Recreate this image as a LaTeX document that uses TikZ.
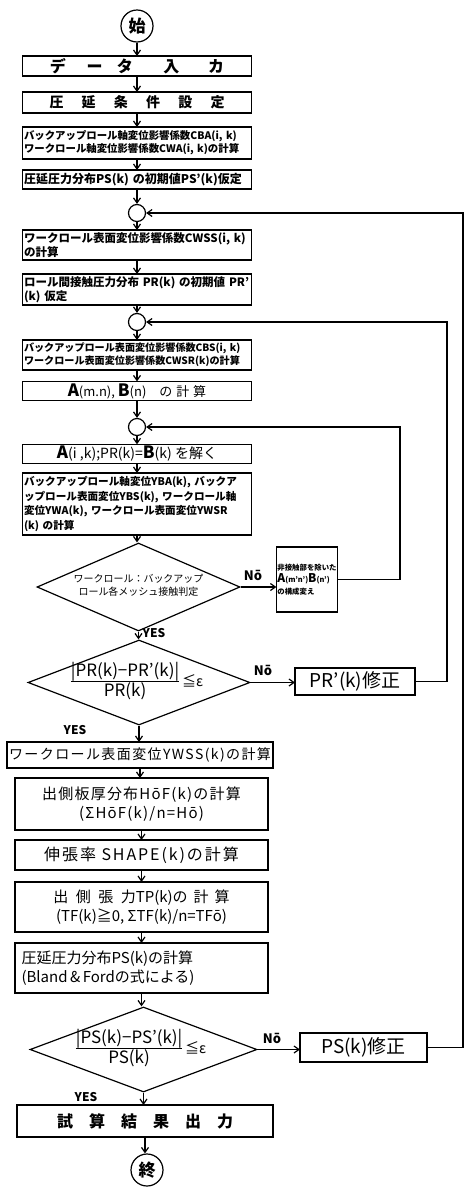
\documentclass[tikz,border=0pt]{standalone}
\usepackage{fontspec}
\setmainfont{Noto Sans CJK JP}
\usetikzlibrary{shapes.geometric,arrows.meta}
\newcommand{\frc}[2]{\setlength{\arrayrulewidth}{1.4pt}\begin{tabular}[c]{@{}c@{}}#1\\[-1pt]\hline #2\end{tabular}}
\newcommand{\fs}[2]{\fontsize{#1}{#2}\selectfont}
\newcommand{\ls}[1]{\addfontfeatures{LetterSpace=#1}}
\begin{document}
\begin{tikzpicture}[x=1pt,y=-1pt,
  box/.style={draw, line width=1.2pt, rectangle, inner sep=2pt, outer sep=0pt},
  sbox/.style={box, align=left, text width=226pt, inner sep=1.5pt, font=\fs{11}{13}\bfseries},
  flow/.style={line width=1.2pt, -{Straight Barb[length=5pt,width=7pt]}},
  junc/.style={draw, circle, line width=1.2pt, minimum size=17pt, inner sep=0pt},
  term/.style={draw, circle, line width=1.2pt, minimum size=32pt, inner sep=0pt, font=\fs{17}{17}\bfseries},
  dec/.style={draw, diamond, line width=1.2pt, inner sep=0pt, aspect=2.4},
  lbl/.style={inner sep=0pt, font=\fs{13}{13}\bfseries}
]
\useasboundingbox (0,0) rectangle (474,1189);
\fill[white] (0,0) rectangle (474,1189);

% ---- top section
\node[term] (start) at (137,26) {始};
\node[box, minimum width=229pt, minimum height=20pt, font=\fs{16}{16}\bfseries] (input) at (137,66)
  {デ\hspace{1.3em}ー\hspace{0.9em}タ\hspace{1.9em}入\hspace{1.8em}カ};
\node[box, minimum width=229pt, minimum height=21pt, font=\fs{14}{14}\bfseries] (cond) at (137,102.5)
  {圧\hspace{1.3em}延\hspace{1.3em}条\hspace{1.3em}件\hspace{1.3em}設\hspace{1.3em}定};
\node[sbox, minimum height=32pt, font=\fs{10.4}{13}\bfseries] (cba) at (137,143)
  {バックアップロール軸変位影響係数CBA(i, k)\\ワークロール軸変位影響係数CWA(i, k)の計算};
\node[sbox, minimum height=19pt, font=\fs{12}{13}\bfseries] (ps0) at (137,179.5)
  {圧延圧力分布PS(k) の初期値PS'(k)仮定};
\node[junc] (j1) at (137,213) {};
\node[sbox, minimum height=30pt, font=\fs{11.5}{14}\bfseries] (cwss) at (137,245)
  {ワークロール表面変位影響係数CWSS(i, k)\\の計算};
\node[sbox, minimum height=31pt, font=\fs{11.5}{14}\bfseries] (pr0) at (137,289.5)
  {ロール間接触圧力分布 PR(k) の初期値 PR'\\(k) 仮定};
\node[junc] (j2) at (137,322) {};
\node[sbox, minimum height=30pt, font=\fs{10.1}{13}\bfseries] (cbs) at (137,355)
  {バックアップロール表面変位影響係数CBS(i, k)\\ワークロール表面変位影響係数CWSR(k)の計算};
\node[box, minimum width=229pt, minimum height=18pt, font=\fs{13}{13}] (amn) at (137,391)
  {{\fs{17}{17}\bfseries A}(m.n), {\fs{17}{17}\bfseries B}(n)\hspace{1em}の\hspace{0.3em}計\hspace{0.3em}算};
\node[junc] (j3) at (137,427) {};
\node[box, minimum width=229pt, minimum height=18pt, font=\fs{14}{14}] (solve) at (137,454)
  {{\fs{17}{17}\bfseries A}(i ,k);PR(k)={\fs{17}{17}\bfseries B}(k) を解く};
\node[sbox, minimum height=62pt, font=\fs{10.6}{14.5}\bfseries] (yba) at (137,504)
  {バックアップロール軸変位YBA(k), バックア\\ップロール表面変位YBS(k), ワークロール軸\\変位YWA(k), ワークロール表面変位YWSR\\(k) の計算};
\node[dec, minimum width=203pt, minimum height=88pt] (d1) at (138.5,587) {};
\node[align=center, font=\fs{10}{13}] at (138.5,585)
  {ワークロール：バックアップ\\ロール各メッシュ接触判定};
\node[box, minimum width=60pt, minimum height=65pt, align=left, inner sep=1pt, font=\fs{7.4}{12}\bfseries] (nc) at (307,579.5)
  {非接触部を除いた\\{\fs{12}{12}A}(m'n'){\fs{12}{12}B}(n')\\の構成変え};
\node[lbl] at (253,575) {Nō};
\node[lbl, font=\fs{12}{12}\bfseries] at (154,633) {YES};

% ---- second decision
\node[dec, minimum width=222pt, minimum height=85pt] (d2) at (139,682.5) {};
\node[font=\fs{17}{18}] at (137,682)
  {\frc{|PR(k)−PR'(k)|}{PR(k)}\,{\fs{14}{14}≦ε}};
\node[box, minimum width=120pt, minimum height=27pt, font=\fs{19}{19}] (prfix) at (355,681.5) {PR'(k)修正};
\node[lbl] at (263,670) {Nō};
\node[lbl, font=\fs{12}{12}\bfseries] at (75,730) {YES};

% ---- lower section
\node[box, minimum width=256pt, minimum height=26pt, font=\fs{14}{14}\ls{10}] (ywss) at (140,755)
  {ワークロール表面変位YWSS(k)の計算};
\node[box, minimum width=253pt, minimum height=52pt, align=center, font=\fs{15}{19}\ls{8}] (hof) at (141.5,804)
  {出側板厚分布HōF(k)の計算\\(ΣHōF(k)/n=Hō)};
\node[box, minimum width=253pt, minimum height=30pt, font=\fs{16}{16}\ls{12}] (shape) at (141.5,855)
  {伸張率 SHAPE(k)の計算};
\node[box, minimum width=253pt, minimum height=50pt, align=center, font=\fs{15}{19}] (tp) at (141.5,907)
  {出\hspace{0.5em}側\hspace{0.5em}張\hspace{0.5em}力TP(k)の\hspace{0.4em}計\hspace{0.4em}算\\(TF(k)≧0, ΣTF(k)/n=TFō)};
\node[box, minimum width=253pt, minimum height=50pt, align=left, text width=240pt, font=\fs{15}{19}] (psc) at (141.5,968)
  {圧延圧力分布PS(k)の計算\\(Bland\,\&\,Fordの式による)};
\node[dec, minimum width=227pt, minimum height=85pt] (d3) at (143.5,1049.5) {};
\node[font=\fs{17}{18}] at (141,1049)
  {\frc{|PS(k)−PS'(k)|}{PS(k)}\,{\fs{14}{14}≦ε}};
\node[box, minimum width=127pt, minimum height=29pt, font=\fs{19}{19}] (psfix) at (363.5,1047.5) {PS(k)修正};
\node[lbl] at (272,1038) {Nō};
\node[lbl, font=\fs{12}{12}\bfseries] at (86,1097) {YES};
\node[box, minimum width=256pt, minimum height=32pt, font=\fs{16}{16}\bfseries] (out) at (145,1121)
  {試\hspace{1em}算\hspace{1em}結\hspace{1em}果\hspace{1em}出\hspace{1em}力};
\node[term] (end) at (147,1170) {終};

% ---- main flow
\foreach \a/\b in {start/input, input/cond, cond/cba, cba/ps0, ps0/j1, j1/cwss, cwss/pr0, pr0/j2, j2/cbs, cbs/amn, amn/j3, j3/solve, solve/yba, yba/d1, d1/d2, d2/ywss, ywss/hof, hof/shape, shape/tp, tp/psc, psc/d3, d3/out, out/end}
  \draw[flow] (\a.south) -- (\a.south |- \b.north);

% ---- branches
\draw[flow] (d1.east) -- (d1.east -| nc.west);
\draw[flow] (d2.east) -- (d2.east -| prfix.west);
\draw[flow] (d3.east) -- (d3.east -| psfix.west);

% ---- feedback loops
\coordinate (c3a) at (400,579.5);
\coordinate (c3b) at (400,427);
\draw[flow] (nc.east) -- (c3a) -- (c3b) -- (j3.east);
\coordinate (c2a) at (447,681.5);
\coordinate (c2b) at (447,322);
\draw[flow] (prfix.east) -- (c2a) -- (c2b) -- (j2.east);
\coordinate (c1a) at (463,1047.5);
\coordinate (c1b) at (463,213);
\draw[flow] (psfix.east) -- (c1a) -- (c1b) -- (j1.east);
\end{tikzpicture}
\end{document}
